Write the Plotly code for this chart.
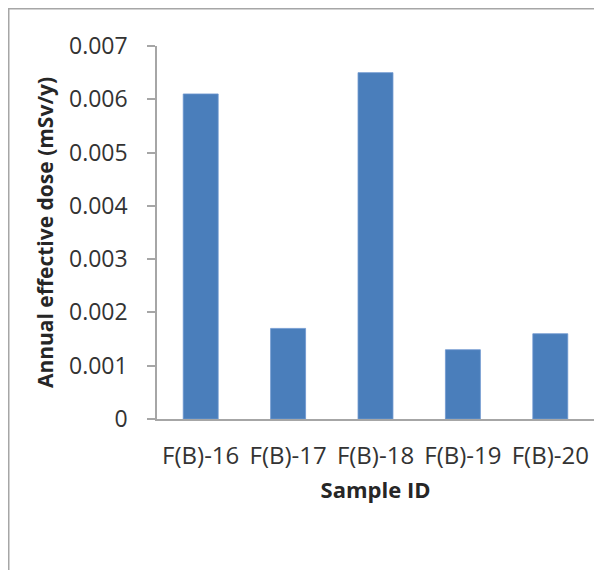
import plotly.graph_objects as go

categories = ["F(B)-16", "F(B)-17", "F(B)-18", "F(B)-19", "F(B)-20"]
dose_values = [0.0061, 0.0017, 0.0065, 0.0013, 0.0016]
y_tick_values = [0, 0.001, 0.002, 0.003, 0.004, 0.005, 0.006, 0.007]
y_tick_labels = ["0", "0.001", "0.002", "0.003", "0.004", "0.005", "0.006", "0.007"]

# page body has an 8px margin, so the figure is 8px smaller and offset
W, H = 594, 562
L, R, T, B = 149, 8, 38, 151
pw, ph = W - L - R, H - T - B

def px_x(p):
    return (p - L) / pw

def px_y(p):
    return (H - B - p) / ph

fig = go.Figure(go.Bar(
    x=categories, y=dose_values,
    marker=dict(color="#4a7ebb", line=dict(color="#6d97cf", width=0.8)),
    width=0.4,
))

fig.update_layout(
    width=W, height=H,
    margin=dict(l=L, r=R, t=T, b=B),
    paper_bgcolor="white", plot_bgcolor="white",
    font=dict(family="Open Sans, sans-serif", color="#262626", size=20),
    showlegend=False,
    shapes=[dict(
        type="path", xref="paper", yref="paper",
        path=f"M {px_x(0.75)} {px_y(640)} L {px_x(0.75)} {px_y(0.75)} L {px_x(640)} {px_y(0.75)}",
        line=dict(color="#a6a6a6", width=1.5),
    )],
)

fig.update_xaxes(
    showline=True, linecolor="#a6a6a6", linewidth=1.5,
    ticks="", showgrid=False,
    tickfont=dict(size=24, color="#333333"),
    ticklabelstandoff=14,
    title=dict(text="<b>Sample ID</b>", font=dict(size=22, color="#262626"), standoff=13),
)
fig.update_yaxes(
    range=[0, 0.007],
    tickvals=y_tick_values, ticktext=y_tick_labels,
    showline=True, linecolor="#a6a6a6", linewidth=1.5,
    ticks="outside", ticklen=8, tickcolor="#a6a6a6", tickwidth=1.5,
    showgrid=False, zeroline=False,
    tickfont=dict(size=23, color="#333333"),
    ticklabelstandoff=15,
    title=dict(text="<b>Annual effective dose (mSv/y)</b>", font=dict(size=21, color="#262626"), standoff=10),
)

fig.write_html("out.html")
